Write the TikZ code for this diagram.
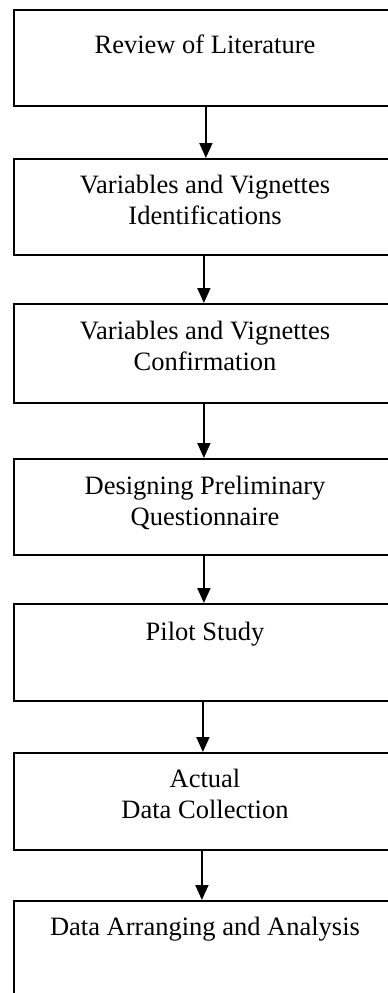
\documentclass[tikz,border=0pt]{standalone}
\usepackage{fontspec}
\setmainfont{Liberation Serif}
\usetikzlibrary{arrows.meta}
\begin{document}
\begin{tikzpicture}[x=1pt,y=-1pt,
  stepbox/.style={draw=black,line width=1.8pt,rectangle,inner sep=0pt,anchor=north west,minimum width=384pt},
  txt/.style={font=\fontsize{26.5pt}{31pt}\selectfont,align=center,inner sep=0pt,anchor=base},
  arr/.style={line width=1.8pt,-{Triangle[width=13pt,length=15pt]}}]
\useasboundingbox (0,0) rectangle (388,993);
\clip (0,0) rectangle (388,993);
\node[stepbox,minimum height=96pt] (b1) at (13,9) {};
\node[stepbox,minimum height=96pt] (b2) at (13,158) {};
\node[stepbox,minimum height=99pt] (b3) at (13,303) {};
\node[stepbox,minimum height=96pt] (b4) at (13,458) {};
\node[stepbox,minimum height=97pt] (b5) at (13,603) {};
\node[stepbox,minimum height=97pt] (b6) at (13,752) {};
\node[stepbox,minimum height=120pt] (b7) at (13,900) {};
\node[txt] (t1) at (205,53) {Review of Literature};
\node[txt] (t2) at (205,224) {Variables and Vignettes\\Identifications};
\node[txt] (t3) at (205,370) {Variables and Vignettes\\Confirmation};
\node[txt] (t4) at (205,525) {Designing Preliminary\\Questionnaire};
\node[txt] (t5) at (205,640) {Pilot Study};
\node[txt] (t6) at (205,818) {Actual\\Data Collection};
\node[txt] (t7) at (205,935) {Data Arranging and Analysis};
\draw[arr] ([xshift=0pt]b1.south) -- ([xshift=0pt]b2.north);
\draw[arr] ([xshift=-2pt]b2.south) -- ([xshift=-2pt]b3.north);
\draw[arr] ([xshift=-2pt]b3.south) -- ([xshift=-2pt]b4.north);
\draw[arr] ([xshift=-2pt]b4.south) -- ([xshift=-2pt]b5.north);
\draw[arr] ([xshift=-3pt]b5.south) -- ([xshift=-3pt]b6.north);
\draw[arr] ([xshift=-4pt]b6.south) -- ([xshift=-4pt]b7.north);
\end{tikzpicture}
\end{document}
